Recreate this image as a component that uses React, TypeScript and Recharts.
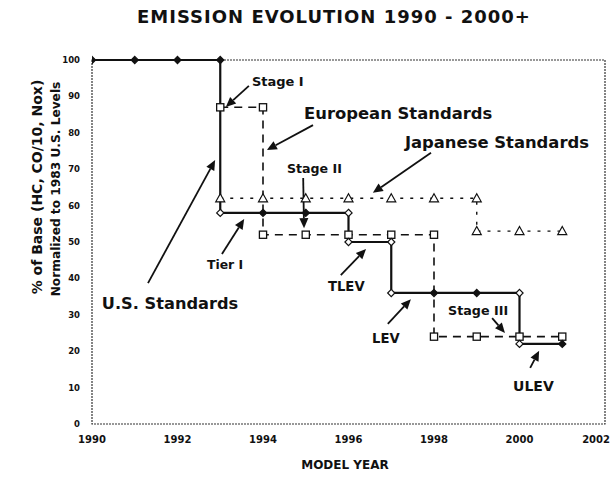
import React from "react";
import {
  ComposedChart,
  Line,
  XAxis,
  YAxis,
  ReferenceLine,
  ReferenceDot,
  ReferenceArea,
} from "recharts";

// U.S. standards (solid line, diamonds)
const usYears = [1990, 1991, 1992, 1993, 1993, 1994, 1995, 1996, 1996, 1997, 1997, 1998, 1999, 2000, 2000, 2001];
const usValues = [100, 100, 100, 100, 58, 58, 58, 58, 50, 50, 36, 36, 36, 36, 22, 22];

// European standards (dashed line, open squares)
const euYears = [1993, 1994, 1994, 1995, 1996, 1997, 1998, 1998, 1999, 2000, 2001];
const euValues = [87, 87, 52, 52, 52, 52, 52, 24, 24, 24, 24];

// Japanese standards (dotted line, open triangles)
const jpYears = [1993, 1994, 1995, 1996, 1997, 1998, 1999, 1999, 2000, 2001];
const jpValues = [62, 62, 62, 62, 62, 62, 62, 53, 53, 53];

const xTicks = [1990, 1992, 1994, 1996, 1998, 2000, 2002];
const yTicks = [0, 10, 20, 30, 40, 50, 60, 70, 80, 90, 100];

// callouts, in data units: text start point and arrow from -> to
const callouts = [
  { text: "Stage I", x: 1993.74, y: 94.0, size: 13, from: [1993.67, 92.9], to: [1993.13, 87.1] },
  { text: "European Standards", x: 1994.96, y: 85.4, size: 16.4, from: [1995.17, 82.1], to: [1994.09, 75.3] },
  { text: "Japanese Standards", x: 1997.32, y: 77.2, size: 16.4, from: [1997.93, 74.5], to: [1996.57, 63.5] },
  { text: "Stage II", x: 1994.56, y: 70.1, size: 12.6, from: [1994.94, 67.6], to: [1994.96, 53.8] },
  { text: "Tier I", x: 1992.69, y: 43.7, size: 12.4, from: [1993.04, 46.7], to: [1993.56, 56.3] },
  { text: "U.S. Standards", x: 1990.23, y: 33.0, size: 16.2, from: [1991.31, 38.7], to: [1992.88, 72.5] },
  { text: "TLEV", x: 1995.52, y: 37.9, size: 13.2, from: [1995.82, 40.9], to: [1996.41, 48.1] },
  { text: "LEV", x: 1996.55, y: 23.6, size: 13.2, from: [1996.92, 27.5], to: [1997.46, 34.3] },
  { text: "Stage III", x: 1998.33, y: 31.3, size: 12.7, from: [1999.36, 29.1], to: [1999.66, 25.0] },
  { text: "ULEV", x: 1999.85, y: 10.4, size: 14, from: [2000.25, 15.4], to: [2000.46, 20.1] },
];

const FONT = "'DejaVu Sans', Arial, sans-serif";
const INK = "#111";

const toRows = (years: number[], values: number[]) =>
  years.map((year, i) => ({ year, value: values[i] }));

const usData = toRows(usYears, usValues);
const euData = toRows(euYears, euValues);
const jpData = toRows(jpYears, jpValues);

// lower corner of a step (same year as the point before it) is drawn hollow
const isOpen = (years: number[], i: number) =>
  (i > 0 && years[i - 1] === years[i]) || (i > 4 && years[i + 1] === years[i]);

const diamondDot = (props: any) => {
  const { cx, cy, index } = props;
  const open = isOpen(usYears, index);
  const r = 3.6;
  return (
    <path
      key={`us-${index}`}
      d={`M${cx},${cy - r}L${cx + r},${cy}L${cx},${cy + r}L${cx - r},${cy}Z`}
      fill={open ? "#fff" : INK}
      stroke={INK}
      strokeWidth={1.2}
    />
  );
};

const squareDot = (props: any) => {
  const { cx, cy, index } = props;
  return (
    <rect
      key={`eu-${index}`}
      x={cx - 3.6}
      y={cy - 3.6}
      width={7.2}
      height={7.2}
      fill="#fff"
      stroke={INK}
      strokeWidth={1.3}
    />
  );
};

const triangleDot = (props: any) => {
  const { cx, cy, index } = props;
  return (
    <path
      key={`jp-${index}`}
      d={`M${cx},${cy - 4.5}L${cx + 4.5},${cy + 3.5}L${cx - 4.5},${cy + 3.5}Z`}
      fill="#fff"
      stroke={INK}
      strokeWidth={1.2}
    />
  );
};

// year labels; the last one is pulled in so it stays on the page
const yearTick = (props: any) => {
  const { x, y, payload } = props;
  const last = payload.value === xTicks[xTicks.length - 1];
  return (
    <text
      x={last ? x + 10 : x}
      y={y}
      dy="0.71em"
      textAnchor={last ? "end" : "middle"}
      fontFamily={FONT}
      fontWeight="bold"
      fontSize={10}
      fill={INK}
    >
      {payload.value}
    </text>
  );
};

const Arrow = (props: any) => {
  const { x1, y1, x2, y2 } = props;
  const ang = Math.atan2(y2 - y1, x2 - x1);
  const len = 10;
  const half = 4.5;
  const bx = x2 - len * Math.cos(ang);
  const by = y2 - len * Math.sin(ang);
  const px = -Math.sin(ang) * half;
  const py = Math.cos(ang) * half;
  return (
    <g>
      <line x1={x1} y1={y1} x2={bx} y2={by} stroke={INK} strokeWidth={1.8} />
      <path d={`M${x2},${y2}L${bx + px},${by + py}L${bx - px},${by - py}Z`} fill={INK} />
    </g>
  );
};

const labelShape = (text: string, size: number) => (props: any) => (
  <text
    x={props.cx}
    y={props.cy}
    fontFamily={FONT}
    fontWeight="bold"
    fontSize={size}
    fill={INK}
    textAnchor="start"
    dominantBaseline="central"
  >
    {text}
  </text>
);

const App = () => {
  return (
    <div style={{ position: "absolute", left: 0, top: 0, width: 616, height: 477, background: "#fff" }}>
      <div
        style={{
          position: "absolute",
          left: 334,
          top: 16,
          transform: "translate(-50%, -50%)",
          fontFamily: FONT,
          fontWeight: "bold",
          fontSize: 18,
          letterSpacing: 1,
          whiteSpace: "nowrap",
          color: INK,
        }}
      >
        EMISSION EVOLUTION 1990 - 2000+
      </div>

      <ComposedChart
        width={616}
        height={477}
        margin={{ top: 60, right: 11, bottom: 33, left: 72 }}
      >
        <XAxis
          type="number"
          dataKey="year"
          domain={[1990, 2002]}
          ticks={xTicks}
          allowDataOverflow
          axisLine={false}
          tickLine={false}
          tickSize={0}
          tickMargin={12}
          height={20}
          tick={yearTick}
        />
        <YAxis
          type="number"
          domain={[0, 100]}
          ticks={yTicks}
          axisLine={false}
          tickLine={false}
          tickSize={0}
          tickMargin={12}
          width={20}
          tick={{ fill: INK, fontSize: 8.5, fontWeight: "bold", fontFamily: FONT }}
        />

        <ReferenceArea
          x1={1990}
          x2={2002}
          y1={0}
          y2={100}
          fill="none"
          stroke="#333"
          strokeWidth={1.2}
          strokeDasharray="2 1"
        />

        <Line
          data={jpData}
          dataKey="value"
          type="linear"
          stroke={INK}
          strokeWidth={1.4}
          strokeDasharray="3 7"
          dot={triangleDot}
          activeDot={false}
          isAnimationActive={false}
        />
        <Line
          data={euData}
          dataKey="value"
          type="linear"
          stroke={INK}
          strokeWidth={1.6}
          strokeDasharray="8 6"
          dot={squareDot}
          activeDot={false}
          isAnimationActive={false}
        />
        <Line
          data={usData}
          dataKey="value"
          type="linear"
          stroke={INK}
          strokeWidth={2.2}
          dot={diamondDot}
          activeDot={false}
          isAnimationActive={false}
        />

        {callouts.map((c) => (
          <ReferenceLine
            key={`arrow-${c.text}`}
            segment={[
              { x: c.from[0], y: c.from[1] },
              { x: c.to[0], y: c.to[1] },
            ]}
            shape={Arrow}
          />
        ))}
        {callouts.map((c) => (
          <ReferenceDot
            key={`label-${c.text}`}
            x={c.x}
            y={c.y}
            r={0}
            shape={labelShape(c.text, c.size)}
          />
        ))}
      </ComposedChart>

      <div
        style={{
          position: "absolute",
          left: 37,
          top: 187,
          transform: "translate(-50%, -50%) rotate(-90deg)",
          fontFamily: FONT,
          fontWeight: "bold",
          fontSize: 14,
          whiteSpace: "nowrap",
          color: INK,
        }}
      >
        % of Base (HC, CO/10, Nox)
      </div>
      <div
        style={{
          position: "absolute",
          left: 56,
          top: 189,
          transform: "translate(-50%, -50%) rotate(-90deg)",
          fontFamily: FONT,
          fontWeight: "bold",
          fontSize: 12.2,
          whiteSpace: "nowrap",
          color: INK,
        }}
      >
        Normalized to 1983 U.S. Levels
      </div>
      <div
        style={{
          position: "absolute",
          left: 345,
          top: 465,
          transform: "translate(-50%, -50%)",
          fontFamily: FONT,
          fontWeight: "bold",
          fontSize: 12,
          whiteSpace: "nowrap",
          color: INK,
        }}
      >
        MODEL YEAR
      </div>
    </div>
  );
};

export default App;
